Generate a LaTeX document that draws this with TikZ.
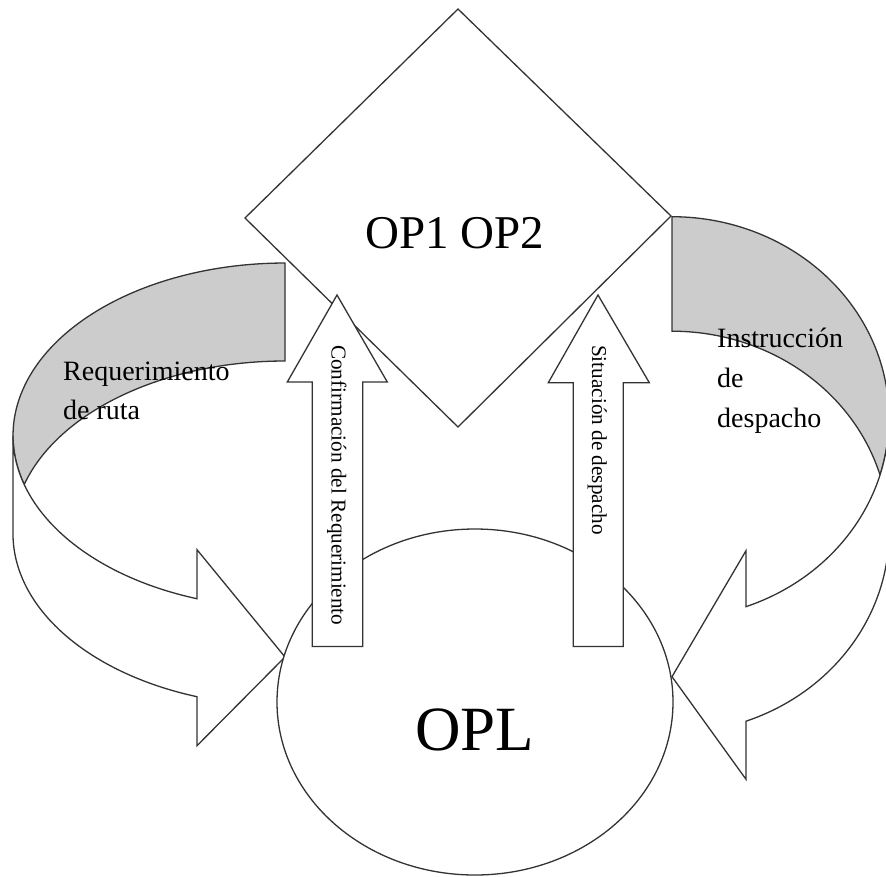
\documentclass[tikz,border=0pt]{standalone}
\usepackage{fontspec}
\setmainfont{Liberation Serif}
\begin{document}
\begin{tikzpicture}[x=1pt,y=-1pt,
  shapeline/.style={draw=black!80, line width=1.3pt, line join=miter},
  backface/.style={shapeline, fill=black!20},
  frontface/.style={shapeline, fill=white},
  sidelabel/.style={anchor=base west, inner sep=0pt, font=\fontsize{28}{39}\selectfont},
  arrowlabel/.style={rotate=-90, anchor=base west, inner sep=0pt, font=\fontsize{21.2}{21}\selectfont},
  E1L/.style={x radius=272, y radius=172.5},
  E1R/.style={x radius=217, y radius=201}]
\useasboundingbox (0,0) rectangle (886,876);
\fill[white] (0,0) rectangle (886,876);
\clip (0,0) rectangle (886,876);

% ---------- left curved arrow ----------
\path[backface] (285,361) arc[start angle=-90, end angle=-163.5, E1L]
                arc[start angle=163.5, end angle=270, E1L] -- cycle;
\path[frontface] (13,435.5) arc[start angle=180, end angle=108.87, E1L]
  -- (197,549.7) -- (285,657) -- (197,745.7) -- (197,696.7)
  arc[start angle=108.87, end angle=180, E1L] -- cycle;

% ---------- right curved arrow ----------
\path[backface] (672,331.2) arc[start angle=-90, end angle=-16.55, E1R]
                arc[start angle=16.55, end angle=-90, E1R] -- cycle;
\path[frontface] (889,417.7) arc[start angle=0, end angle=70.06, E1R]
  -- (746,550.7) -- (672,676.7) -- (746,779.3) -- (746,721.2)
  arc[start angle=70.06, end angle=0, E1R] -- cycle;

% ---------- diamond ----------
\path[frontface] (458,9) -- (671,216) -- (458,427) -- (245,218) -- cycle;

% ---------- ellipse ----------
\path[frontface] (475,702) ellipse[x radius=198, y radius=173];

% ---------- vertical block arrows ----------
\path[frontface] (337,295) -- (387.3,382) -- (362.8,382) -- (362.8,646.5)
  -- (312.2,646.5) -- (312.2,382) -- (287.3,382) -- cycle;
\path[frontface] (598,295) -- (649.3,382.7) -- (623.3,382.7) -- (623.3,646.5)
  -- (573.3,646.5) -- (573.3,382.7) -- (548.3,382.7) -- cycle;

% ---------- texts ----------
\node[anchor=base west, inner sep=0pt, font=\fontsize{47}{47}\selectfont] (op) at (365,248) {OP1 OP2};
\node[anchor=base west, inner sep=0pt, font=\fontsize{63}{63}\selectfont] (opl) at (415,750) {OPL};
\node[sidelabel] (req1) at (63,380) {Requerimiento};
\node[sidelabel] (req2) at (63,419) {de ruta};
\node[sidelabel] (ins1) at (717,347) {Instrucción};
\node[sidelabel] (ins2) at (717,387) {de};
\node[sidelabel] (ins3) at (717,427) {despacho};
\node[arrowlabel] (conf) at (331.5,345) {Confirmación del Requerimiento};
\node[arrowlabel] (sit) at (592,345) {Situación de despacho};
\end{tikzpicture}
\end{document}
